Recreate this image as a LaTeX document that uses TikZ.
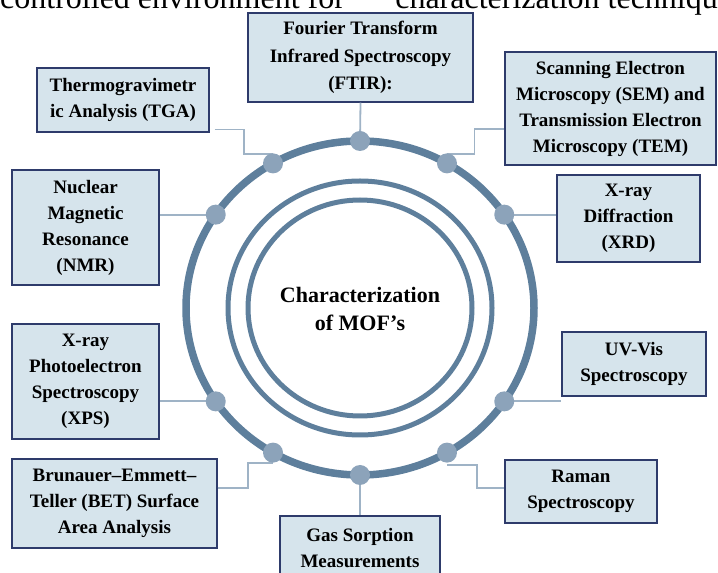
\documentclass[tikz,border=0pt]{standalone}
\usepackage{fontspec}
\setmainfont{Liberation Serif}
\usetikzlibrary{calc}
\definecolor{ringblue}{HTML}{5E7F9C}
\definecolor{dotblue}{HTML}{8CA3BA}
\definecolor{linkblue}{HTML}{9FB3C6}
\definecolor{boxfill}{HTML}{D6E4EC}
\definecolor{boxline}{HTML}{2E3B6B}
\begin{document}
\begin{tikzpicture}[x=1pt,y=1pt,
  box/.style={draw=boxline, line width=1.2pt, fill=boxfill, align=center, inner sep=0pt, font=\fontsize{19}{26}\selectfont\bfseries},
  dot/.style={circle, fill=dotblue, minimum size=20pt, inner sep=0pt},
  ring/.style={draw=ringblue},
  link/.style={draw=linkblue, line width=1.8pt}]
\path[use as bounding box, clip] (0,0) rectangle (718,573);
\node[anchor=base west, inner sep=0pt, font=\fontsize{32}{38}\selectfont] (txtl) at (0,564) {controlled environment for};
\node[anchor=base east, inner sep=0pt, font=\fontsize{32}{38}\selectfont] (txtr) at (718,564) {characterization techniqu};

\coordinate (C) at (360,265);
\draw[ring, line width=7.5pt] (C) ellipse [x radius=174, y radius=167];
\draw[ring, line width=5pt] (C) ellipse [x radius=132, y radius=127];
\draw[ring, line width=5pt] (C) ellipse [x radius=112, y radius=108];
\node[font=\fontsize{22}{28}\selectfont\bfseries, align=center] (title) at (360,264) {Characterization\\of MOF's};

\foreach \a in {34,60,90,120,146,214,240,270,300,326}
  \coordinate (p\a) at ($(C)+(\a:174 and 167)$);

\node[box, minimum width=225pt, minimum height=89pt, font=\fontsize{19}{27.5}\selectfont\bfseries] (ftir) at (360.5,515.5) {Fourier Transform\\Infrared Spectroscopy\\(FTIR):};
\node[box, minimum width=172pt, minimum height=64pt] (tga) at (123,473) {Thermogravimetr\\ic Analysis (TGA)};
\node[box, minimum width=211pt, minimum height=113pt] (sem) at (610.5,464.5) {Scanning Electron\\Microscopy (SEM) and\\Transmission Electron\\Microscopy (TEM)};
\node[box, minimum width=147pt, minimum height=115pt] (nmr) at (85.5,345.5) {Nuclear\\Magnetic\\Resonance\\(NMR)};
\node[box, minimum width=143pt, minimum height=87pt] (xrd) at (628.5,354.5) {X-ray\\Diffraction\\(XRD)};
\node[box, minimum width=147pt, minimum height=115pt] (xps) at (85.5,191.5) {X-ray\\Photoelectron\\Spectroscopy\\(XPS)};
\node[box, minimum width=144pt, minimum height=64pt] (uvvis) at (634,209) {UV-Vis\\Spectroscopy};
\node[box, minimum width=205pt, minimum height=89pt] (bet) at (114.5,69.5) {Brunauer–Emmett–\\Teller (BET) Surface\\Area Analysis};
\node[box, minimum width=152pt, minimum height=63pt] (raman) at (581,81.5) {Raman\\Spectroscopy};
\node[box, minimum width=160pt, minimum height=64pt] (gas) at (360,25) {Gas Sorption\\Measurements};

\draw[link] (ftir.south) -- (p90);
\draw[link] ([shift={(5,3)}]tga.south east) -- ++(29,0) |- ([yshift=9]p120);
\draw[link] ([yshift=-20.5]sem.west) -- ++(-30,0) |- ([yshift=9]p60);
\draw[link] (p146) -- (p146 -| nmr.east);
\draw[link] (p34) -- (p34 -| xrd.west);
\draw[link] (p214) -- (p214 -| xps.east);
\draw[link] (p326) -- (p326 -| uvvis.west);
\draw[link] ([yshift=15.5]bet.east) -- ++(30,0) |- ([yshift=-10]p240);
\draw[link] ([yshift=-12]p300) -- ++(30,0) |- ([yshift=3.5]raman.west);
\draw[link] (p270) -- (gas.north);

\foreach \a in {34,60,90,120,146,214,240,270,300,326}
  \node[dot] (d\a) at (p\a) {};
\end{tikzpicture}
\end{document}
